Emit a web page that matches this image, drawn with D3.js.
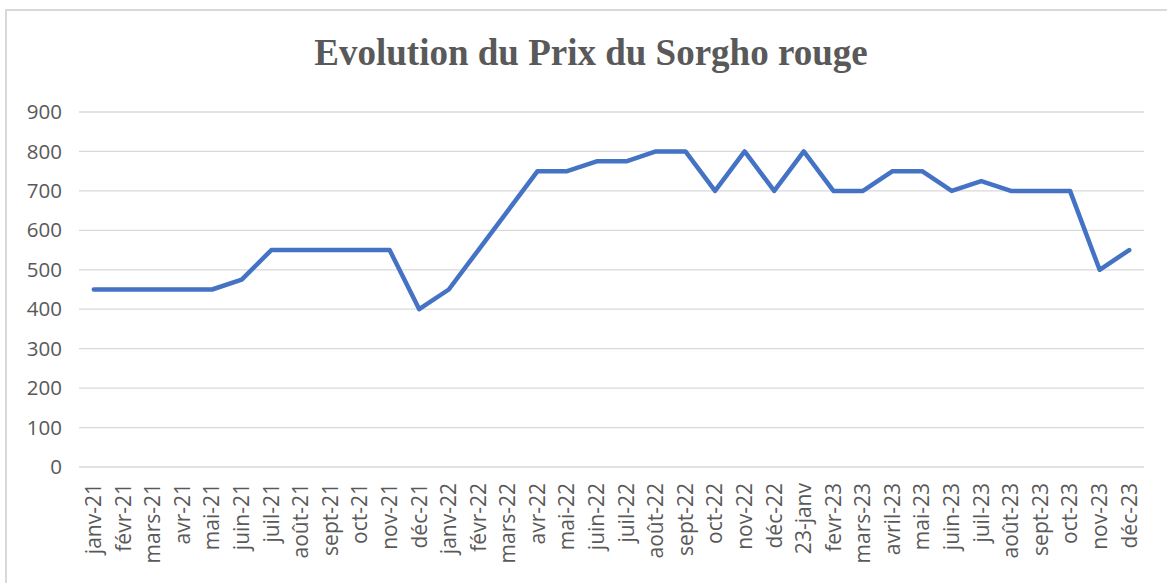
<!DOCTYPE html>
<html>
<head>
<meta charset="utf-8">
<script src="https://cdn.jsdelivr.net/npm/d3@7"></script>
<style>
  body { margin: 0; background: #fff; }
  .axis text { font-family: "Open Sans", "Noto Sans", sans-serif; fill: #595959; }
</style>
</head>
<body>
<div id="chart"></div>
<script>
var months = ["janv-21","févr-21","mars-21","avr-21","mai-21","juin-21","juil-21","août-21","sept-21","oct-21","nov-21","déc-21",
              "janv-22","févr-22","mars-22","avr-22","mai-22","juin-22","juil-22","août-22","sept-22","oct-22","nov-22","déc-22",
              "23-janv","fevr-23","mars-23","avril-23","mai-23","juin-23","juil-23","août-23","sept-23","oct-23","nov-23","déc-23"];
var prices = [450,450,450,450,450,475,550,550,550,550,550,400,
              450,550,650,750,750,775,775,800,800,700,800,700,
              800,700,700,750,750,700,725,700,700,700,500,550];
var yTicks = [0,100,200,300,400,500,600,700,800,900];
var title = "Evolution du Prix du Sorgho rouge";

var W = 1167, H = 583;
var margin = {left: 79, right: 23, top: 112, bottom: 116};

var svg = d3.select("#chart").append("svg")
    .attr("width", W)
    .attr("height", H);

// chart frame (only top/left visible in the crop)
svg.append("path")
    .attr("d", "M6,583 V10 H1167")
    .attr("fill", "none")
    .attr("stroke", "#d9d9d9")
    .attr("stroke-width", 2);

var xScale = d3.scaleBand()
    .domain(months)
    .range([margin.left, W - margin.right]);

var yScale = d3.scaleLinear()
    .domain([0, 900])
    .range([H - margin.bottom, margin.top]);

// gridlines
svg.append("g")
    .selectAll("line")
    .data(yTicks)
    .enter().append("line")
    .attr("x1", margin.left)
    .attr("x2", W - margin.right)
    .attr("y1", function(d) { return yScale(d); })
    .attr("y2", function(d) { return yScale(d); })
    .attr("stroke", "#d9d9d9")
    .attr("stroke-width", 1.3);

// y axis
var yAxis = d3.axisLeft(yScale).tickValues(yTicks).tickSize(0).tickPadding(17);
svg.append("g")
    .attr("class", "axis")
    .attr("transform", "translate(" + margin.left + ",0)")
    .call(yAxis)
    .call(function(g) { g.select(".domain").remove(); })
    .selectAll("text")
    .style("font-size", "20.5px");

// x axis
var xAxis = d3.axisBottom(xScale).tickSize(0);
svg.append("g")
    .attr("class", "axis")
    .attr("transform", "translate(0," + (H - margin.bottom) + ")")
    .call(xAxis)
    .call(function(g) { g.select(".domain").remove(); })
    .selectAll("text")
    .style("font-size", "21px")
    .attr("text-anchor", "end")
    .attr("dx", "-16px")
    .attr("dy", "0.35em")
    .attr("y", 0)
    .attr("transform", "rotate(-90)");

// line
var line = d3.line()
    .x(function(d, i) { return xScale(months[i]) + xScale.bandwidth() / 2; })
    .y(function(d) { return yScale(d); });

svg.append("path")
    .datum(prices)
    .attr("fill", "none")
    .attr("stroke", "#4472c4")
    .attr("stroke-width", 4.5)
    .attr("stroke-linejoin", "round")
    .attr("stroke-linecap", "round")
    .attr("d", line);

// title
svg.append("text")
    .attr("x", 591)
    .attr("y", 65)
    .attr("text-anchor", "middle")
    .style("font-family", "'Liberation Serif', 'Times New Roman', serif")
    .style("font-weight", "bold")
    .style("font-size", "37px")
    .style("fill", "#595959")
    .text(title);
</script>
</body>
</html>
